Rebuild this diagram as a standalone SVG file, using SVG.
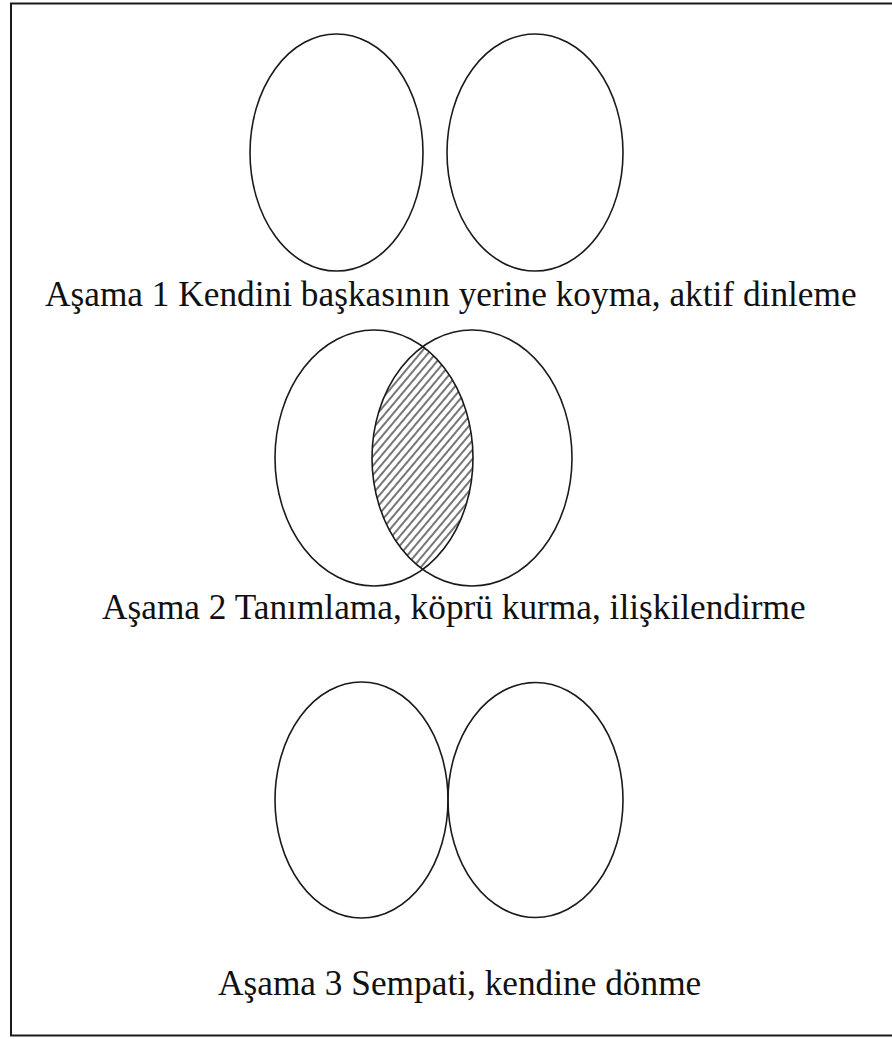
<svg xmlns="http://www.w3.org/2000/svg" width="892" height="1039" viewBox="0 0 892 1039">
  <style>
    .ell { fill: none; stroke: #1a1a1a; stroke-width: 1.6; }
    .lbl { font-family: "Liberation Serif", "Times New Roman", serif; font-size: 35.3px; fill: #111; }
  </style>
  <defs>
    <pattern id="hatch" patternUnits="userSpaceOnUse" width="6" height="6" patternTransform="rotate(40)">
      <line x1="3" y1="-1" x2="3" y2="7" stroke="#1a1a1a" stroke-width="1.2"/>
    </pattern>
    <clipPath id="leftClip">
      <ellipse cx="374" cy="458" rx="99" ry="128"/>
    </clipPath>
  </defs>
  <rect x="0" y="0" width="892" height="1039" fill="#ffffff"/>
  <rect id="frame" x="11" y="3.5" width="900" height="1032" fill="none" stroke="#1a1a1a" stroke-width="2"/>

  <g id="stage1">
    <ellipse id="s1-left" class="ell" cx="336.5" cy="152.5" rx="86.5" ry="118.5"/>
    <ellipse id="s1-right" class="ell" cx="535" cy="152.5" rx="88" ry="118.5"/>
    <text class="lbl" x="45" y="306">Aşama 1 Kendini başkasının yerine koyma, aktif dinleme</text>
  </g>

  <g id="stage2">
    <ellipse id="s2-lens" cx="472" cy="458" rx="100" ry="128" fill="url(#hatch)" clip-path="url(#leftClip)"/>
    <ellipse id="s2-left" class="ell" cx="374" cy="458" rx="99" ry="128"/>
    <ellipse id="s2-right" class="ell" cx="472" cy="458" rx="100" ry="128"/>
    <text class="lbl" x="102" y="619">Aşama 2 Tanımlama, köprü kurma, ilişkilendirme</text>
  </g>

  <g id="stage3">
    <ellipse id="s3-left" class="ell" cx="361.5" cy="800" rx="86.5" ry="118"/>
    <ellipse id="s3-right" class="ell" cx="535.5" cy="800" rx="87.5" ry="117.5"/>
    <text class="lbl" x="218" y="995">Aşama 3 Sempati, kendine dönme</text>
  </g>

  <g id="connectors"/>
</svg>
